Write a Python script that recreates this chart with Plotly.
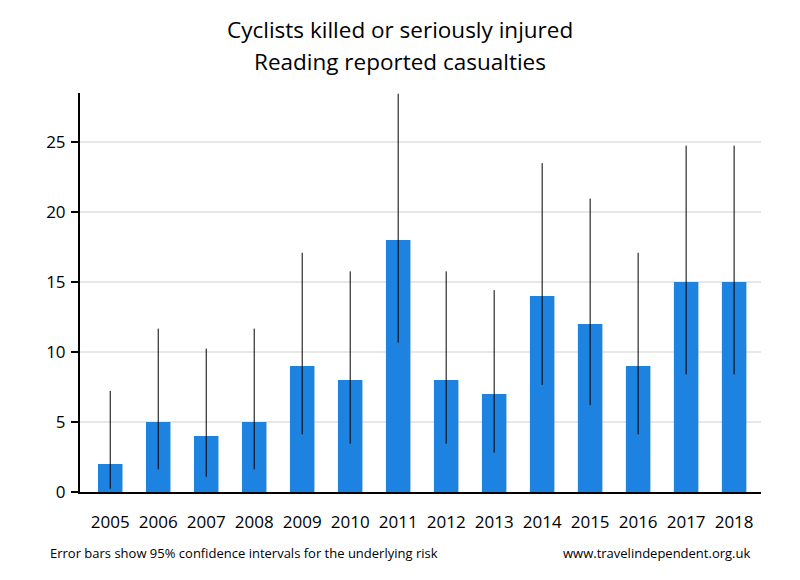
import plotly.graph_objects as go

years = ["2005", "2006", "2007", "2008", "2009", "2010", "2011", "2012", "2013", "2014", "2015", "2016", "2017", "2018"]
casualties = [2, 5, 4, 5, 9, 8, 18, 8, 7, 14, 12, 9, 15, 15]
ci_low = [0.24, 1.62, 1.09, 1.62, 4.12, 3.45, 10.67, 3.45, 2.81, 7.65, 6.20, 4.12, 8.40, 8.40]
ci_high = [7.22, 11.67, 10.24, 11.67, 17.09, 15.76, 28.45, 15.76, 14.42, 23.49, 20.96, 17.09, 24.74, 24.74]

err_plus = [h - v for h, v in zip(ci_high, casualties)]
err_minus = [v - l for l, v in zip(ci_low, casualties)]

font_family = "Open Sans, Noto Sans, DejaVu Sans, sans-serif"

PLOT_TOP, PLOT_BOTTOM, PLOT_LEFT, PLOT_RIGHT = 93, 492, 80, 761
PH = PLOT_BOTTOM - PLOT_TOP
PW = PLOT_RIGHT - PLOT_LEFT


def py(p):
    return (PLOT_BOTTOM - p) / PH


def px(p):
    return (p - PLOT_LEFT) / PW


fig = go.Figure()
fig.add_trace(go.Bar(
    x=years, y=casualties,
    marker=dict(color="#1e82e0", line=dict(width=0)),
    error_y=dict(type="data", symmetric=False, array=err_plus, arrayminus=err_minus,
                 color="black", thickness=1, width=0),
))

fig.update_layout(
    width=800, height=580,
    margin=dict(l=PLOT_LEFT, r=800 - PLOT_RIGHT, t=PLOT_TOP, b=580 - PLOT_BOTTOM),
    paper_bgcolor="white", plot_bgcolor="white",
    bargap=0.49,
    showlegend=False,
    font=dict(family=font_family, color="black"),
    xaxis=dict(type="category", range=[-0.63, 13.56], showgrid=False,
               showline=True, linecolor="black", linewidth=2,
               ticks="outside", ticklen=14, tickcolor="rgba(0,0,0,0)",
               tickfont=dict(size=17, color="black")),
    yaxis=dict(range=[0, 28.5], tickvals=[0, 5, 10, 15, 20, 25],
               showgrid=True, gridcolor="#e8e8e8", gridwidth=2,
               showline=True, linecolor="black", linewidth=2,
               ticks="outside", ticklen=7, tickwidth=2, tickcolor="black",
               zeroline=False, ticklabelstandoff=2,
               tickfont=dict(size=17, color="black")),
    annotations=[
        dict(text="Cyclists killed or seriously injured",
             xref="paper", yref="paper", x=px(400), y=py(30),
             xanchor="center", yanchor="middle", showarrow=False,
             font=dict(size=22.5, color="black")),
        dict(text="Reading reported casualties",
             xref="paper", yref="paper", x=px(400), y=py(61),
             xanchor="center", yanchor="middle", showarrow=False,
             font=dict(size=22.5, color="black")),
        dict(text="Error bars show 95% confidence intervals for the underlying risk",
             xref="paper", yref="paper", x=px(48), y=py(553),
             xanchor="left", yanchor="middle", showarrow=False,
             font=dict(size=13, color="black")),
        dict(text="www.travelindependent.org.uk",
             xref="paper", yref="paper", x=px(752), y=py(553),
             xanchor="right", yanchor="middle", showarrow=False,
             font=dict(size=13, color="black")),
    ],
)

fig.write_html("out.html", config={"displayModeBar": False},
               post_script="document.body.style.margin='0';")
